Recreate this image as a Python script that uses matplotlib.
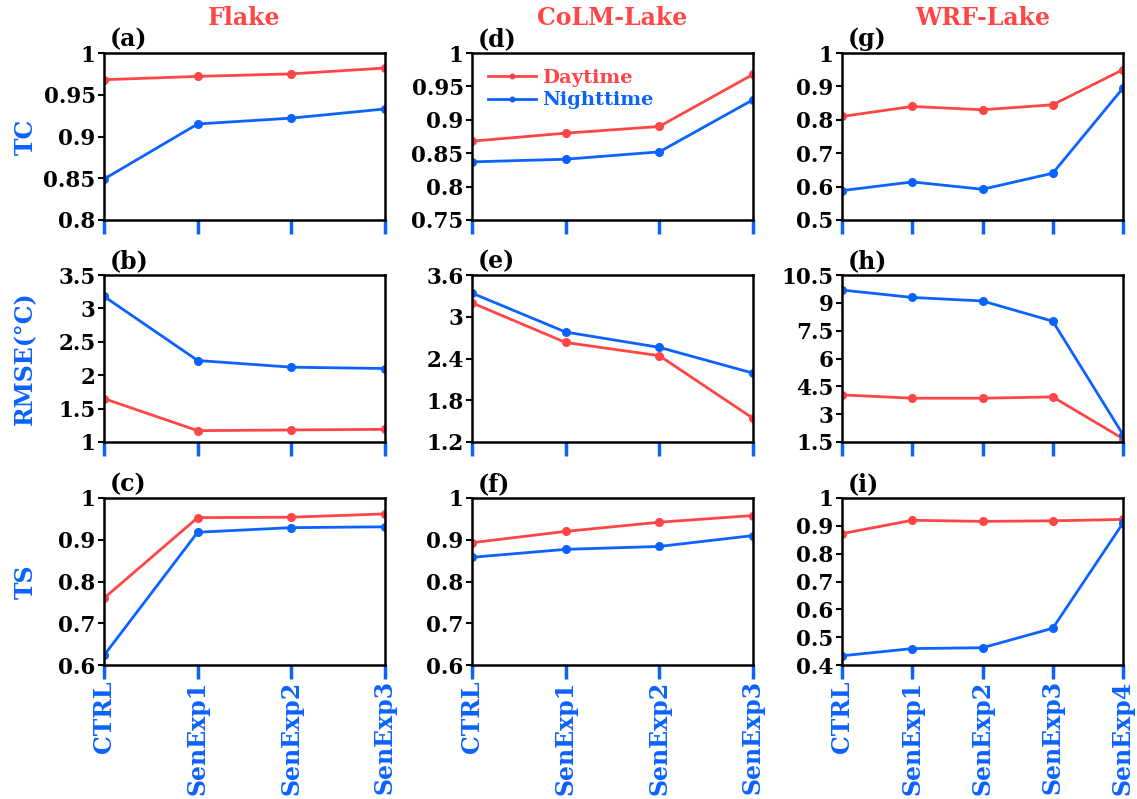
import matplotlib
matplotlib.use('Agg')
import matplotlib.pyplot as plt
import numpy as np

# experiments per model
exps_4 = ["CTRL", "SenExp1", "SenExp2", "SenExp3"]
exps_5 = ["CTRL", "SenExp1", "SenExp2", "SenExp3", "SenExp4"]

models = ["Flake", "CoLM-Lake", "WRF-Lake"]
metrics = ["TC", "RMSE(°C)", "TS"]

# Flake
flake_tc_day = [0.968, 0.972, 0.975, 0.982]
flake_tc_night = [0.849, 0.915, 0.922, 0.933]
flake_rmse_day = [1.65, 1.17, 1.18, 1.19]
flake_rmse_night = [3.18, 2.22, 2.12, 2.10]
flake_ts_day = [0.760, 0.953, 0.954, 0.962]
flake_ts_night = [0.623, 0.918, 0.929, 0.931]

# CoLM-Lake
colm_tc_day = [0.868, 0.880, 0.890, 0.968]
colm_tc_night = [0.837, 0.841, 0.852, 0.930]
colm_rmse_day = [3.20, 2.63, 2.44, 1.54]
colm_rmse_night = [3.34, 2.78, 2.56, 2.19]
colm_ts_day = [0.893, 0.920, 0.942, 0.958]
colm_ts_night = [0.858, 0.877, 0.884, 0.910]

# WRF-Lake
wrf_tc_day = [0.810, 0.840, 0.830, 0.845, 0.950]
wrf_tc_night = [0.588, 0.614, 0.592, 0.640, 0.895]
wrf_rmse_day = [4.04, 3.86, 3.86, 3.93, 1.68]
wrf_rmse_night = [9.69, 9.29, 9.10, 8.01, 1.90]
wrf_ts_day = [0.872, 0.920, 0.916, 0.918, 0.923]
wrf_ts_night = [0.433, 0.459, 0.462, 0.532, 0.910]

# y axis ticks per panel (row, col)
yticks = {
    (0, 0): [0.8, 0.85, 0.9, 0.95, 1],
    (1, 0): [1, 1.5, 2, 2.5, 3, 3.5],
    (2, 0): [0.6, 0.7, 0.8, 0.9, 1],
    (0, 1): [0.75, 0.8, 0.85, 0.9, 0.95, 1],
    (1, 1): [1.2, 1.8, 2.4, 3, 3.6],
    (2, 1): [0.6, 0.7, 0.8, 0.9, 1],
    (0, 2): [0.5, 0.6, 0.7, 0.8, 0.9, 1],
    (1, 2): [1.5, 3, 4.5, 6, 7.5, 9, 10.5],
    (2, 2): [0.4, 0.5, 0.6, 0.7, 0.8, 0.9, 1],
}
ytlabels = {
    (0, 0): ["0.8", "0.85", "0.9", "0.95", "1"],
    (1, 0): ["1", "1.5", "2", "2.5", "3", "3.5"],
    (2, 0): ["0.6", "0.7", "0.8", "0.9", "1"],
    (0, 1): ["0.75", "0.8", "0.85", "0.9", "0.95", "1"],
    (1, 1): ["1.2", "1.8", "2.4", "3", "3.6"],
    (2, 1): ["0.6", "0.7", "0.8", "0.9", "1"],
    (0, 2): ["0.5", "0.6", "0.7", "0.8", "0.9", "1"],
    (1, 2): ["1.5", "3", "4.5", "6", "7.5", "9", "10.5"],
    (2, 2): ["0.4", "0.5", "0.6", "0.7", "0.8", "0.9", "1"],
}

data = {
    (0, 0): (flake_tc_day, flake_tc_night),
    (1, 0): (flake_rmse_day, flake_rmse_night),
    (2, 0): (flake_ts_day, flake_ts_night),
    (0, 1): (colm_tc_day, colm_tc_night),
    (1, 1): (colm_rmse_day, colm_rmse_night),
    (2, 1): (colm_ts_day, colm_ts_night),
    (0, 2): (wrf_tc_day, wrf_tc_night),
    (1, 2): (wrf_rmse_day, wrf_rmse_night),
    (2, 2): (wrf_ts_day, wrf_ts_night),
}
xlabels = [exps_4, exps_4, exps_5]
letters = "abcdefghi"

red = "#ff4545"
blue = "#0a62ff"
fam = "DejaVu Serif"

W, H = 1137, 799
fig = plt.figure(figsize=(W / 100, H / 100), dpi=100)

col_left = [104, 472, 842]
col_w = [281, 281, 281]
row_top = [53, 275, 498]
row_h = 167

for r in range(3):
    for c in range(3):
        x0 = col_left[c] / W
        y0 = 1 - (row_top[r] + row_h) / H
        ax = fig.add_axes([x0, y0, col_w[c] / W, row_h / H])
        day, night = data[(r, c)]
        xs = np.arange(len(day))
        ax.plot(xs, day, color=red, lw=2.0, marker="o", ms=5.5, label="Daytime")
        ax.plot(xs, night, color=blue, lw=2.0, marker="o", ms=5.5, label="Nighttime")
        yt = yticks[(r, c)]
        ax.set_ylim(yt[0], yt[-1])
        ax.set_xlim(0, len(day) - 1)
        ax.set_yticks(yt)
        ax.set_yticklabels(ytlabels[(r, c)], fontfamily=fam, fontweight="bold", fontsize=15.5)
        ax.set_xticks(xs)
        if r == 2:
            ax.set_xticklabels(xlabels[c], rotation=90, color=blue, fontfamily=fam,
                               fontweight="bold", fontsize=17, va="top")
        else:
            ax.set_xticklabels([])
        ax.tick_params(axis="y", direction="out", length=4, width=1.5, pad=2)
        ax.tick_params(axis="x", direction="out", length=10, width=2.5, color=blue, pad=1)
        for s in ax.spines.values():
            s.set_linewidth(1.8)
        ax.text(0.02, 1.01, "(%s)" % letters[c * 3 + r], transform=ax.transAxes,
                fontfamily=fam, fontweight="bold", fontsize=17, ha="left", va="bottom")
        if r == 0:
            ax.text(0.5, 1.14, models[c], transform=ax.transAxes, color=red,
                    fontfamily=fam, fontweight="bold", fontsize=17, ha="center", va="bottom")
        if c == 0:
            ax.text(-0.28, 0.5, metrics[r], transform=ax.transAxes, color=blue, rotation=90,
                    fontfamily=fam, fontweight="bold", fontsize=17, ha="center", va="center")
        if (r, c) == (0, 1):
            leg = ax.legend(loc="upper left", frameon=False, handlelength=2.5,
                            handletextpad=0.3, labelspacing=0.25, borderaxespad=0.4,
                            markerscale=0.6,
                            prop={"family": fam, "weight": "bold", "size": 14})
            for txt, col in zip(leg.get_texts(), [red, blue]):
                txt.set_color(col)

fig.savefig("out.png", dpi=100)
